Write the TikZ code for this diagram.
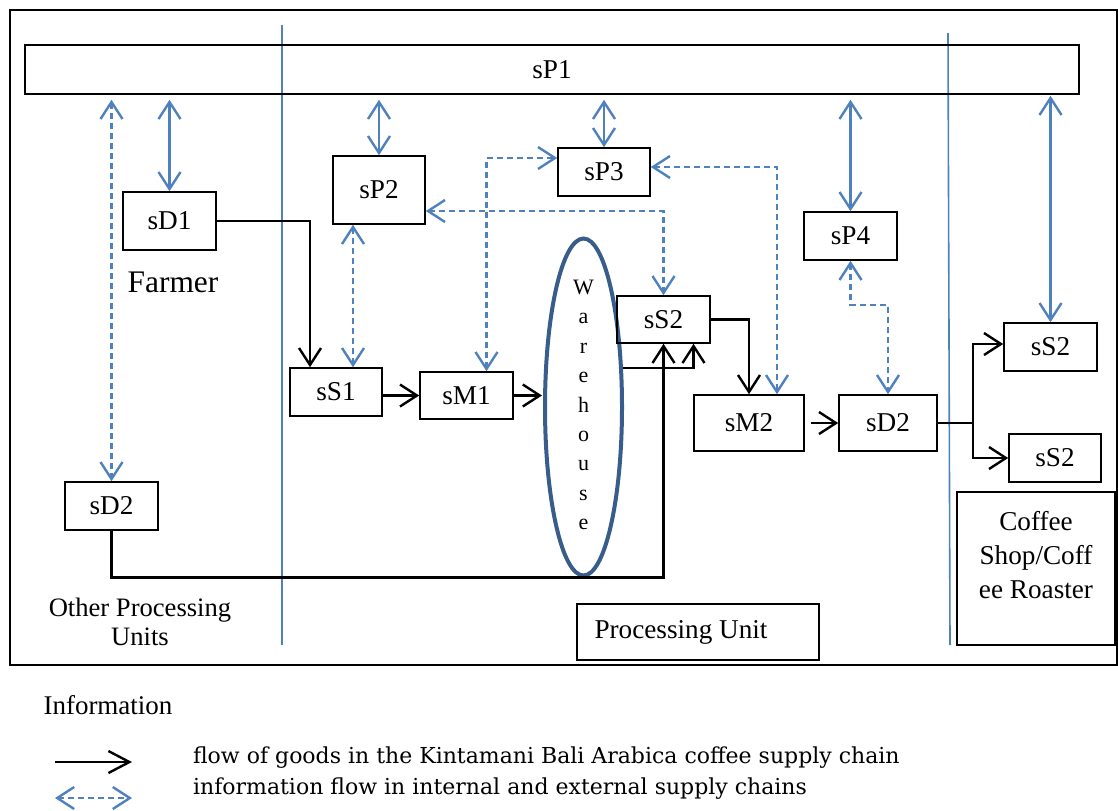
\documentclass[tikz,border=0pt]{standalone}
\usepackage{fontspec}
\setmainfont{Liberation Serif}
\newfontfamily\legendfont{DejaVu Serif}
\usepackage{tikz}
\usetikzlibrary{arrows.meta,shapes.geometric,positioning}
\definecolor{infoblue}{RGB}{79,129,189}
\definecolor{houseblue}{RGB}{56,93,138}
\newcommand{\boxfont}{\fontsize{13.6}{16}\selectfont}

\begin{document}
\begin{tikzpicture}[
	x=0.5pt, y=-0.5pt,
	>={Straight Barb[length=8.5pt,width=11pt]},
	box/.style={
		draw,
		line width=0.8pt,
		font = \boxfont,
		inner sep=0pt
	},
	goods/.style={
		->,
		line width=1.2pt
	},
	infosolid/.style={
		<->,
		infoblue,
		line width=1.2pt
	},
	infodash/.style={
		infosolid,
		dash pattern=on 3pt off 2pt
	},
	divider/.style={
		infoblue,
		line width=0.8pt
	}
	]
	
	\useasboundingbox (0,0) rectangle (1118,810);
	
	% frame and unit borders
	\draw[line width=1pt] (10,10) rectangle (1117,665);
	\draw[divider] (282,25) -- (282,645);
	\draw[divider] (948,33) -- (950,645);
	
	\node[box, minimum width=527pt, minimum height=24.5pt] at (552, 69.5)
	(sP1) {sP1};
	
	% other processing units / farmer
	\node[box, minimum width=46.5pt, minimum height=29pt] at (169.5, 221)
	(sD1) {sD1};
	\node[font=\fontsize{15.7}{18}\selectfont] at (173, 282)
	(farmer) {Farmer};
	\node[box, minimum width=46.5pt, minimum height=24pt] at (111.5, 506)
	(oD2) {sD2};
	\node[font=\fontsize{13.3}{14.5}\selectfont, align=center] at (140, 622)
	(other) {Other Processing\\Units};
	
	% processing unit
	\node[box, minimum width=46pt, minimum height=34pt] at (379, 190)
	(sP2) {sP2};
	\node[box, minimum width=46pt, minimum height=24pt] at (336, 392)
	(sS1) {sS1};
	\node[box, minimum width=46.5pt, minimum height=23.5pt] at (466.5, 395.5)
	(sM1) {sM1};
	\node[box, minimum width=46pt, minimum height=24pt] at (604, 172)
	(sP3) {sP3};
	\node[draw=houseblue, line width=2pt, ellipse, minimum width=38.5pt,
	minimum height=168.5pt, inner sep=0pt] at (583.5, 407)
	(wh) {};
	\node[font=\fontsize{11}{14.7}\selectfont, align=center] at (583.5, 405)
	(whname) {W\\a\\r\\e\\h\\o\\u\\s\\e};
	\node[box, minimum width=46.5pt, minimum height=23.5pt] at (663.5, 319.5)
	(sS2) {sS2};
	\node[box, minimum width=55pt, minimum height=28pt] at (749, 423)
	(sM2) {sM2};
	\node[box, minimum width=49pt, minimum height=28pt] at (888, 423)
	(sD2) {sD2};
	\node[box, minimum width=46.5pt, minimum height=24pt] at (850.5, 236)
	(sP4) {sP4};
	\node[box, minimum width=121pt, minimum height=28pt,
	label={[font=\boxfont, xshift=-8.5pt]center:Processing Unit}] at (698, 632)
	(unit) {};
	
	% coffee shop / roaster
	\node[box, minimum width=46.5pt, minimum height=24pt] at (1050.5, 347)
	(cS2a) {sS2};
	\node[box, minimum width=46pt, minimum height=24pt] at (1055, 458)
	(cS2b) {sS2};
	\node[box, minimum width=79pt, minimum height=76.5pt,
	label={[font=\fontsize{13.6}{17}\selectfont, align=center, yshift=6.5pt]center:Coffee\\Shop/Coff\\ee Roaster}] at (1036, 568.5)
	(shop) {};
	
	% information flow
	\draw[infosolid, shorten <=2.5pt] (sP1.south -| sD1.north) -- (sD1.north);
	\draw[infodash, shorten <=2.5pt] (sP1.south -| oD2.north) -- (oD2.north);
	\draw[infosolid, shorten <=2.5pt] (sP1.south -| sP2.north) -- (sP2.north);
	\draw[infosolid, shorten <=2.5pt] (sP1.south -| sP3.north) -- (sP3.north);
	\draw[infosolid, shorten <=2.5pt] (sP1.south -| sP4.north) -- (sP4.north);
	\draw[infosolid, shorten <=0.5pt] (sP1.south -| cS2a.north) -- (cS2a.north);
	\draw[infodash] ([xshift=-13pt]sP2.south) -- ([xshift=-13pt]sP2.south |- sS1.north);
	\draw[infodash] ([xshift=10pt]sM1.north) |- ([yshift=7pt]sP3.west);
	\draw[infodash] ([yshift=2.5pt]sP3.east) -| ([xshift=14pt]sM2.north);
	\draw[infodash] ([yshift=-10.5pt]sP2.east) -| (sS2.north);
	\draw[infodash] (sP4.south) -- ++(0,-22pt) -| (sD2.north);
	
	% flow of goods
	\coordinate (whout) at (623, 368);
	\coordinate (split) at (973, 423);
	\draw[goods] (sD1.east) -| ([xshift=-13pt]sS1.north);
	\draw[goods] (sS1.east |- sM1.west) -- (sM1.west);
	\draw[goods, shorten >=0.5pt] (sM1.east) -- (sM1.east -| wh.west);
	\draw[goods] (whout) -| ([xshift=15pt]sS2.south);
	\draw[goods] (oD2.south) |- (wh.south) -| (sS2.south);
	\draw[goods] (sS2.east) -| (sM2.north);
	\draw[goods, shorten <=3pt] (sM2.east) -- (sD2.west);
	\draw[line width=1.2pt] (sD2.east) -- (split);
	\draw[goods] (split) |- ([yshift=1.5pt]cS2a.west);
	\draw[goods] (split) |- (cS2b.west);
	
	% legend
	\node[font=\fontsize{13.5}{16}\selectfont] at (108, 705)
	(info) {Information};
	\coordinate (g1) at (55, 762);
	\coordinate (g2) at (132, 762);
	\coordinate (i1) at (55, 798);
	\coordinate (i2) at (132, 798);
	\draw[goods, >={Straight Barb[length=10.5pt,width=11pt]}] (g1) -- (g2);
	\draw[infodash] (i1) -- (i2);
	\node[font=\legendfont\fontsize{11}{13}\selectfont, anchor=west] at (186, 758)
	(lgoods) {flow of goods in the Kintamani Bali Arabica coffee supply chain};
	\node[font=\legendfont\fontsize{11}{13}\selectfont, anchor=west] at (186, 789)
	(linfo) {information flow in internal and external supply chains};
	
\end{tikzpicture}
\end{document}
